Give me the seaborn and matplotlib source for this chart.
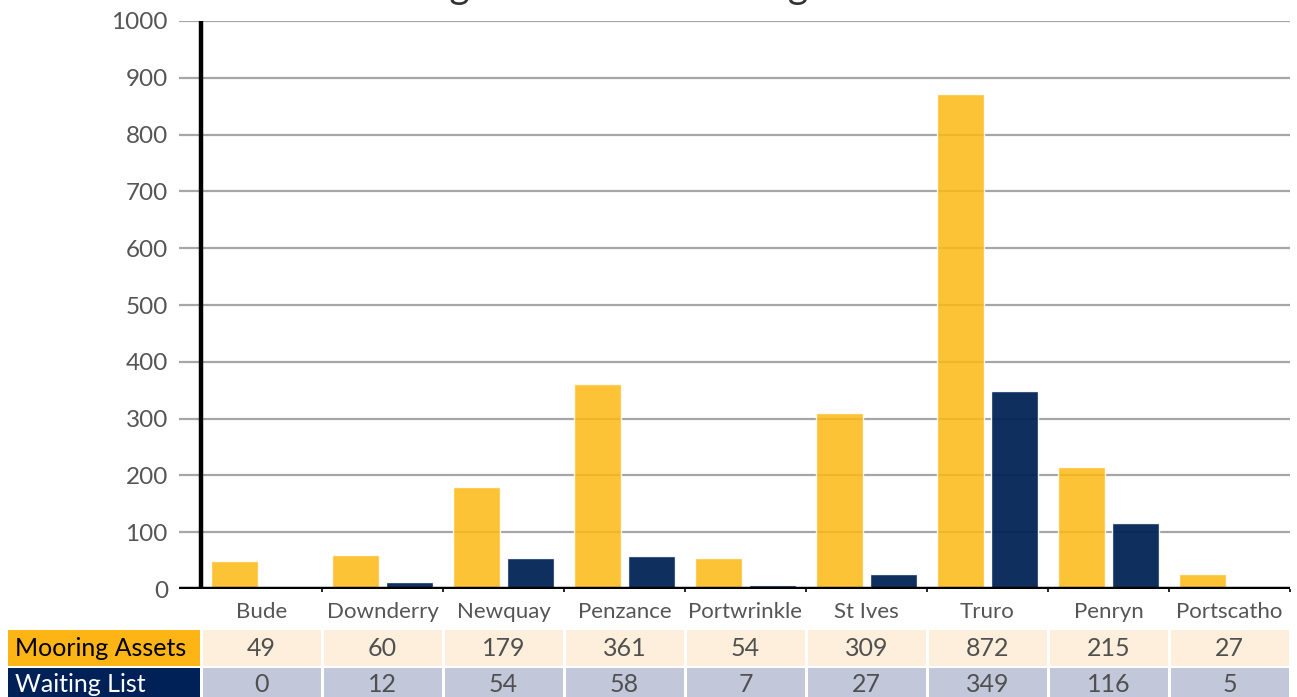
import matplotlib
matplotlib.use("Agg")
import matplotlib.pyplot as plt
import matplotlib.transforms as mtransforms
from matplotlib.patches import Rectangle
import seaborn as sns
import pandas as pd

# Harbour mooring data
harbours = ["Bude", "Downderry", "Newquay", "Penzance", "Portwrinkle",
            "St Ives", "Truro", "Penryn", "Portscatho"]
mooring_assets = [49, 60, 179, 361, 54, 309, 872, 215, 27]
waiting_list = [0, 12, 54, 58, 7, 27, 349, 116, 5]
series_names = ["Mooring Assets", "Waiting List"]
y_ticks = [0, 100, 200, 300, 400, 500, 600, 700, 800, 900, 1000]

bar_colors = {"Mooring Assets": "#FDB913", "Waiting List": "#002255"}
header_colors = {"Mooring Assets": "#FCB514", "Waiting List": "#002157"}
header_text = {"Mooring Assets": "black", "Waiting List": "white"}
cell_colors = {"Mooring Assets": "#FDEFDB", "Waiting List": "#C3C7DA"}

df = pd.DataFrame({
    "Harbour": harbours * 2,
    "Series": [series_names[0]] * len(harbours) + [series_names[1]] * len(harbours),
    "Count": mooring_assets + waiting_list,
})

sns.set_theme(style="white")
plt.rcParams["font.family"] = ["Lato", "DejaVu Sans"]

W, H = 1297, 697
fig = plt.figure(figsize=(W / 100, H / 100), dpi=100)

# axes box in pixels (from figure top-left)
ax_left, ax_right = 179, 1290
y0_px, y1000_px = 589, 21
ax = fig.add_axes([ax_left / W, 1 - y0_px / H,
                   (ax_right - ax_left) / W, (y0_px - y1000_px) / H])

sns.barplot(data=df, x="Harbour", y="Count", hue="Series", order=harbours,
            hue_order=series_names, palette=bar_colors, width=0.89, gap=0.13,
            alpha=0.85, ax=ax, legend=False, saturation=1)
for c in ax.containers[1:]:
    for p in c:
        p.set_alpha(0.94)

cat_w_px = (ax_right - 201) / len(harbours)
extra = (201 - ax_left) / cat_w_px
ax.set_xlim(-0.5 - extra, len(harbours) - 0.5)
ax.set_ylim(0, 1000)
ax.set_yticks(y_ticks)
ax.set_yticklabels([str(t) for t in y_ticks], fontsize=17.5, color="#555555")
ax.tick_params(axis="y", length=0, pad=8)
ax.set_xticks(range(len(harbours)))
ax.set_xticklabels(harbours, fontsize=16, color="#555555")
ax.tick_params(axis="x", length=0, pad=9)
ax.set_xlabel("")
ax.set_ylabel("")
for s in ax.spines.values():
    s.set_visible(False)

ax.set_axisbelow(True)
ax.yaxis.grid(True, color="#A6A6A6", linewidth=1.6)
ax.xaxis.grid(False)

# axis lines
ax.axhline(0, color="black", linewidth=3.2, zorder=5)
ax.vlines(-0.5, 0, 1000, color="black", linewidth=3.2, zorder=5)
ax.vlines([i - 0.5 for i in range(1, len(harbours) + 1)], -6, 0, color="black",
          linewidth=1.2, zorder=5, clip_on=False)

# data table beneath the chart
trans = mtransforms.blended_transform_factory(ax.transData, fig.transFigure)
rows = [(series_names[0], mooring_assets, 630, 666, 648),
        (series_names[1], waiting_list, 668, 704, 685)]
for name, vals, top, bot, mid in rows:
    yb = 1 - bot / H
    hgt = (bot - top) / H
    fig.add_artist(Rectangle((8 / W, yb), (200 - 8) / W, hgt,
                             transform=fig.transFigure,
                             facecolor=header_colors[name], edgecolor="none"))
    fig.text(15 / W, 1 - mid / H, name, ha="left", va="center", fontsize=18,
             color=header_text[name])
    for i, v in enumerate(vals):
        pad = 1.5 / cat_w_px
        fig.add_artist(Rectangle((i - 0.5 + pad, yb), 1 - 2 * pad, hgt,
                                 transform=trans,
                                 facecolor=cell_colors[name], edgecolor="none"))
        fig.text(i, 1 - mid / H, str(v), ha="center", va="center", fontsize=18,
                 color="#505050", transform=trans)

fig.text(601 / W, 1 + 2 / H, "Mooring Assets and Waiting List", ha="center",
         va="baseline", fontsize=28, color="#333333")

fig.savefig("out.png", dpi=100)
